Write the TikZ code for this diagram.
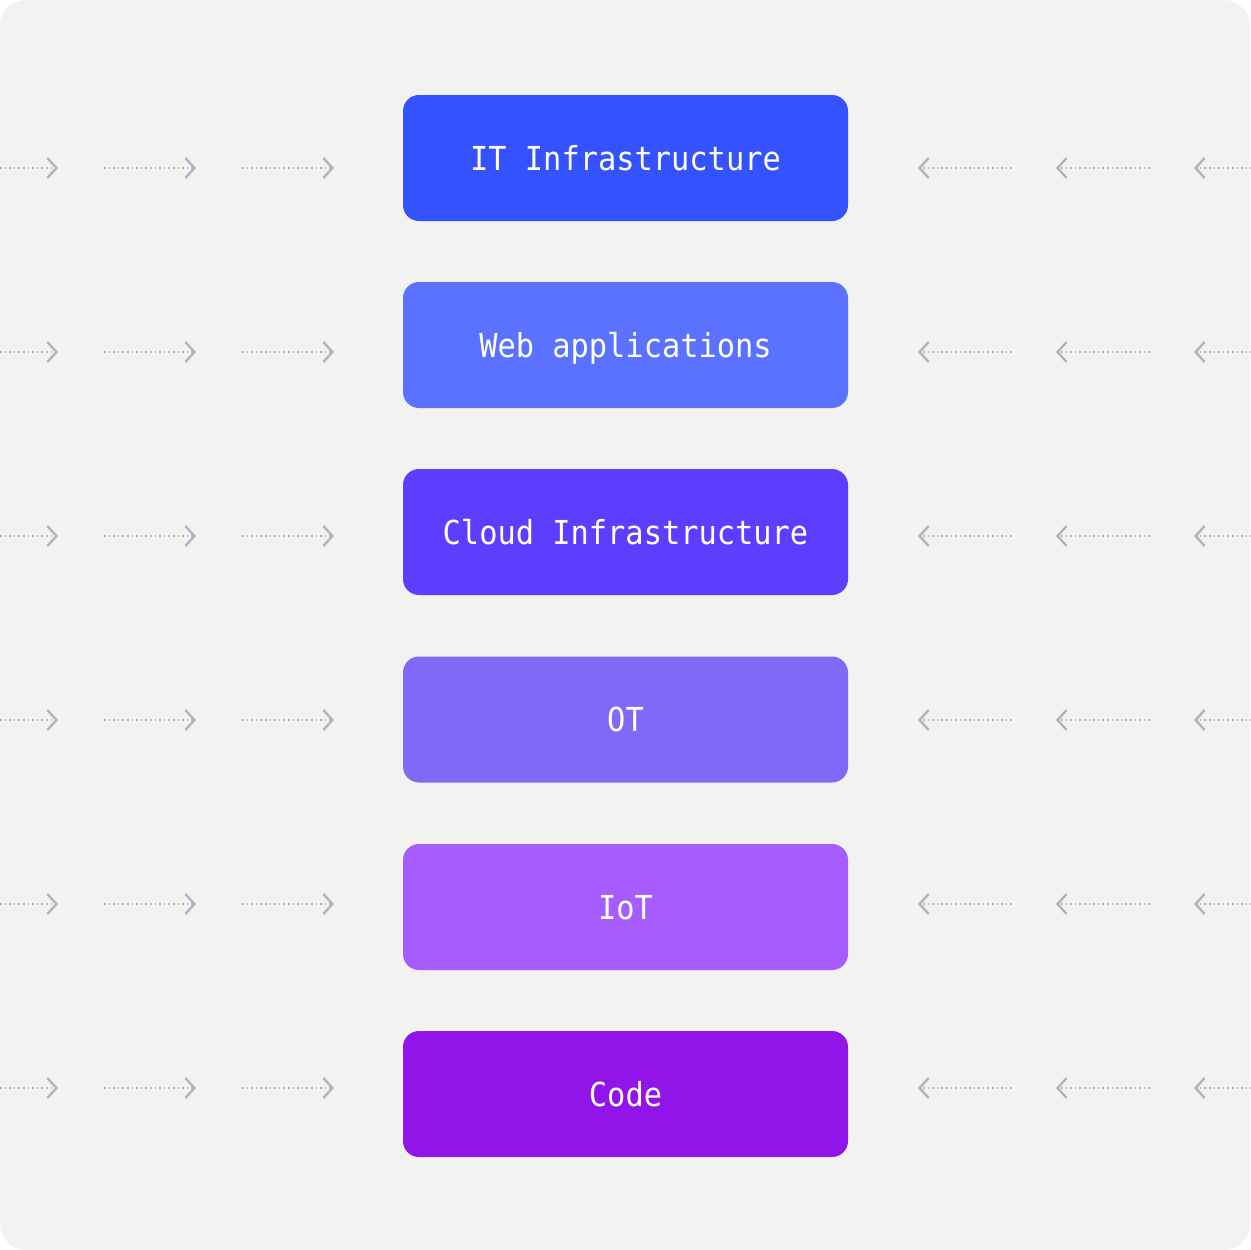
\documentclass[tikz,border=0pt]{standalone}
\usepackage{xcolor}
\usepackage{fontspec}
\usepackage{tikz}
\usetikzlibrary{arrows.meta}
\newfontfamily\boxfont[FakeStretch=0.92]{DejaVu Sans Mono}
\definecolor{bgpanel}{HTML}{F2F2F1}
\definecolor{feedgray}{HTML}{B4B2C0}
\definecolor{layerA}{HTML}{3552FF}
\definecolor{layerB}{HTML}{5B71FF}
\definecolor{layerC}{HTML}{5D3EFF}
\definecolor{layerD}{HTML}{8169F7}
\definecolor{layerE}{HTML}{A65CFF}
\definecolor{layerF}{HTML}{9114E9}
\tikzset{
	layer/.style={draw=none,rounded corners=16pt,minimum width=445pt,minimum height=126pt,inner sep=0pt,text height=24pt,text depth=0pt,text=white,font=\boxfont\fontsize{33}{40}\selectfont},
	feed/.style={feedgray,line width=2pt,dash pattern=on 1.6pt off 3pt,-{Straight Barb[length=9pt,width=20pt,line width=2.4pt]}}
}
\begin{document}
\begin{tikzpicture}[x=1pt,y=-1pt]
	\useasboundingbox (0,0) rectangle (1250,1250);
	\fill[bgpanel,rounded corners=26pt] (0,0) rectangle (1250,1250);

	\node[layer,fill=layerA] (itinfra) at (625.5,158) {IT Infrastructure};
	\node[layer,fill=layerB] (webapps) at (625.5,345) {Web applications};
	\node[layer,fill=layerC] (cloud) at (625.5,532) {Cloud Infrastructure};
	\node[layer,fill=layerD] (ot) at (625.5,719.5) {OT};
	\node[layer,fill=layerE] (iot) at (625.5,907) {IoT};
	\node[layer,fill=layerF] (code) at (625.5,1094) {Code};

	% dotted feeds, left side point in, right side point in
	\foreach \i/\ya in {1/168,2/352,3/536,4/720,5/904,6/1088}{
		\foreach \xs/\xe [count=\j] in {0/58,104/196,242/334}{
			\coordinate (lin\i-\j) at (\xs,\ya);
			\coordinate (ltip\i-\j) at (\xe,\ya);
			\draw[feed] (lin\i-\j) -- (ltip\i-\j);
		}
		\foreach \xs/\xe [count=\j] in {1012/918,1150/1056,1252/1194}{
			\coordinate (rin\i-\j) at (\xs,\ya);
			\coordinate (rtip\i-\j) at (\xe,\ya);
			\draw[feed] (rin\i-\j) -- (rtip\i-\j);
		}
	}
\end{tikzpicture}
\end{document}
